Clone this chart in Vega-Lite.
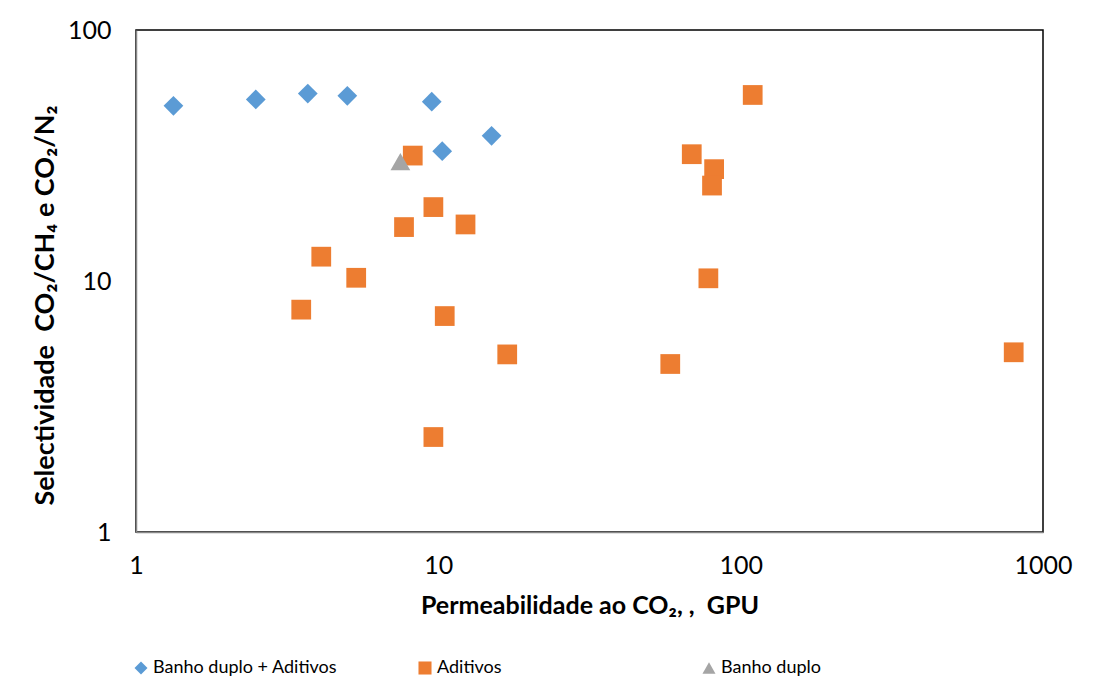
{
  "$schema": "https://vega.github.io/schema/vega-lite/v6.json",
  "autosize": "none",
  "width": 907,
  "height": 502,
  "padding": {"left": 136, "top": 30, "right": 50, "bottom": 168},
  "background": "white",
  "config": {
    "font": "Lato",
    "view": {"stroke": "black", "strokeWidth": 1.5}
  },
  "data": {
    "values": [
      {"serie": "Banho duplo + Aditivos", "perm": 1.33, "sel": 49.9},
      {"serie": "Banho duplo + Aditivos", "perm": 2.49, "sel": 52.9},
      {"serie": "Banho duplo + Aditivos", "perm": 3.70, "sel": 55.8},
      {"serie": "Banho duplo + Aditivos", "perm": 5.0, "sel": 54.7},
      {"serie": "Banho duplo + Aditivos", "perm": 9.51, "sel": 51.8},
      {"serie": "Banho duplo + Aditivos", "perm": 10.3, "sel": 32.9},
      {"serie": "Banho duplo + Aditivos", "perm": 15.0, "sel": 37.9},
      {"serie": "Aditivos", "perm": 8.23, "sel": 31.6},
      {"serie": "Aditivos", "perm": 9.63, "sel": 19.7},
      {"serie": "Aditivos", "perm": 7.70, "sel": 16.4},
      {"serie": "Aditivos", "perm": 12.3, "sel": 16.8},
      {"serie": "Aditivos", "perm": 4.10, "sel": 12.5},
      {"serie": "Aditivos", "perm": 5.35, "sel": 10.3},
      {"serie": "Aditivos", "perm": 3.52, "sel": 7.69},
      {"serie": "Aditivos", "perm": 10.5, "sel": 7.25},
      {"serie": "Aditivos", "perm": 16.9, "sel": 5.1},
      {"serie": "Aditivos", "perm": 9.63, "sel": 2.39},
      {"serie": "Aditivos", "perm": 109.6, "sel": 55.1},
      {"serie": "Aditivos", "perm": 68.9, "sel": 32.0},
      {"serie": "Aditivos", "perm": 81.7, "sel": 27.9},
      {"serie": "Aditivos", "perm": 80.4, "sel": 24.0},
      {"serie": "Aditivos", "perm": 78.2, "sel": 10.25},
      {"serie": "Aditivos", "perm": 58.5, "sel": 4.67},
      {"serie": "Aditivos", "perm": 800, "sel": 5.2},
      {"serie": "Banho duplo", "perm": 7.49, "sel": 29.9}
    ]
  },
  "mark": {"type": "point", "filled": true, "opacity": 1, "size": 390},
  "encoding": {
    "x": {
      "field": "perm",
      "type": "quantitative",
      "scale": {"type": "log", "domain": [1, 1000], "nice": false},
      "axis": {
        "values": [1, 10, 100, 1000],
        "format": "d",
        "ticks": false,
        "grid": false,
        "domainColor": "#888888",
        "domainWidth": 1.5,
        "labelFontSize": 25,
        "labelColor": "black",
        "labelPadding": 21,
        "labelFlush": false,
        "title": "Permeabilidade ao CO₂, ,\u00a0 GPU",
        "titleFontSize": 25,
        "titleFontWeight": "bold",
        "titleColor": "black",
        "titlePadding": 15
      }
    },
    "y": {
      "field": "sel",
      "type": "quantitative",
      "scale": {"type": "log", "domain": [1, 100], "nice": false},
      "axis": {
        "values": [1, 10, 100],
        "format": "d",
        "ticks": false,
        "grid": false,
        "domainColor": "#888888",
        "domainWidth": 1.5,
        "labelFontSize": 25,
        "labelColor": "black",
        "labelPadding": 25,
        "labelFlush": false,
        "title": "Selectividade\u00a0 CO₂/CH₄ e CO₂/N₂",
        "titleFontSize": 27,
        "titleFontWeight": "bold",
        "titleColor": "black",
        "titlePadding": 8,
        "titleY": 275
      }
    },
    "color": {
      "field": "serie",
      "type": "nominal",
      "scale": {
        "domain": ["Banho duplo + Aditivos", "Aditivos", "Banho duplo"],
        "range": ["#5B9BD5", "#ED7D31", "#A5A5A5"]
      },
      "legend": {
        "orient": "none",
        "legendX": -4,
        "legendY": 629,
        "direction": "horizontal",
        "columns": 3,
        "gridAlign": "all",
        "columnPadding": 78,
        "title": null,
        "labelFontSize": 18,
        "labelColor": "black",
        "labelLimit": 400,
        "symbolSize": 170,
        "symbolOffset": 0,
        "labelOffset": 3
      }
    },
    "shape": {
      "field": "serie",
      "type": "nominal",
      "scale": {
        "domain": ["Banho duplo + Aditivos", "Aditivos", "Banho duplo"],
        "range": ["diamond", "square", "triangle-up"]
      }
    }
  }
}
